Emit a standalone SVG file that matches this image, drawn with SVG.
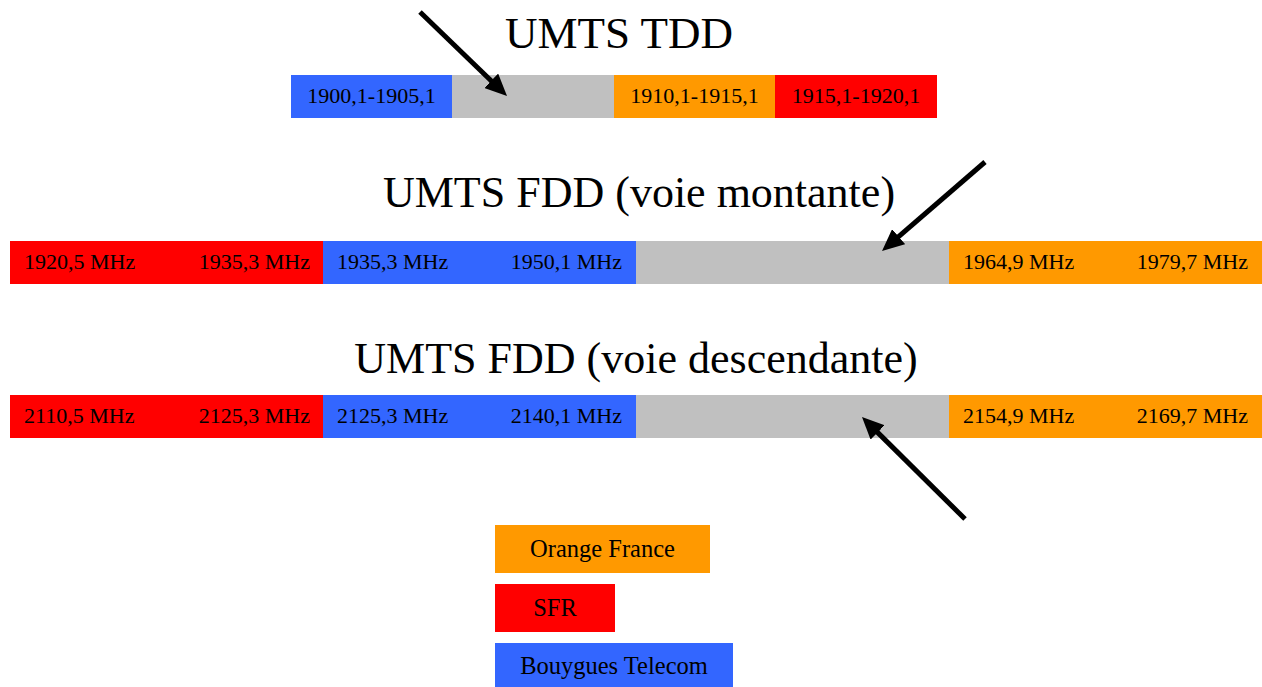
<svg xmlns="http://www.w3.org/2000/svg" width="1262" height="687" viewBox="0 0 1262 687">
<style>
text{font-family:"Liberation Serif","Times New Roman",serif;fill:#000}
.t{font-size:44px;text-anchor:middle}
.l{font-size:22px}
.c{text-anchor:middle}
.e{text-anchor:end}
.g{font-size:24.5px;text-anchor:middle}
.b{fill:#3366FF}.o{fill:#FF9900}.r{fill:#FF0000}.y{fill:#C0C0C0}
.a{stroke:#000;stroke-width:5;fill:none;marker-end:url(#ah)}
</style>
<defs>
<marker id="ah" viewBox="0 0 22 20" markerUnits="userSpaceOnUse" markerWidth="22" markerHeight="20" refX="10" refY="10" orient="auto">
<path d="M0,0 L22,10 L0,20 z" fill="#000"/>
</marker>
</defs>
<g id="tdd">
<text class="t" x="619" y="48" style="font-size:45px">UMTS TDD</text>
<rect class="b" x="291" y="75" width="161" height="43"/>
<rect class="y" x="452" y="75" width="162" height="43"/>
<rect class="o" x="614" y="75" width="161" height="43"/>
<rect class="r" x="775" y="75" width="162" height="43"/>
<text class="l c" x="371.5" y="103">1900,1-1905,1</text>
<text class="l c" x="694.5" y="103">1910,1-1915,1</text>
<text class="l c" x="856" y="103">1915,1-1920,1</text>
</g>
<g id="fdd-up">
<text class="t" x="639" y="207">UMTS FDD (voie montante)</text>
<rect class="r" x="10" y="241" width="313" height="43"/>
<rect class="b" x="323" y="241" width="313" height="43"/>
<rect class="y" x="636" y="241" width="313" height="43"/>
<rect class="o" x="949" y="241" width="313" height="43"/>
<text class="l" x="24" y="269">1920,5 MHz</text>
<text class="l e" x="310" y="269">1935,3 MHz</text>
<text class="l" x="337" y="269">1935,3 MHz</text>
<text class="l e" x="622" y="269">1950,1 MHz</text>
<text class="l" x="963" y="269">1964,9 MHz</text>
<text class="l e" x="1248" y="269">1979,7 MHz</text>
</g>
<g id="fdd-down">
<text class="t" x="636" y="373">UMTS FDD (voie descendante)</text>
<rect class="r" x="10" y="395" width="313" height="43"/>
<rect class="b" x="323" y="395" width="313" height="43"/>
<rect class="y" x="636" y="395" width="313" height="43"/>
<rect class="o" x="949" y="395" width="313" height="43"/>
<text class="l" x="24" y="423">2110,5 MHz</text>
<text class="l e" x="310" y="423">2125,3 MHz</text>
<text class="l" x="337" y="423">2125,3 MHz</text>
<text class="l e" x="622" y="423">2140,1 MHz</text>
<text class="l" x="963" y="423">2154,9 MHz</text>
<text class="l e" x="1248" y="423">2169,7 MHz</text>
</g>
<g id="legend-orange">
<rect class="o" x="495" y="525" width="215" height="48"/>
<text class="g" x="602.5" y="557">Orange France</text>
</g>
<g id="legend-sfr">
<rect class="r" x="495" y="584" width="120" height="48"/>
<text class="g" x="555" y="616">SFR</text>
</g>
<g id="legend-bouygues">
<rect class="b" x="495" y="643" width="238" height="44"/>
<text class="g" x="614" y="674">Bouygues Telecom</text>
</g>
<g id="connectors">
<line class="a" x1="420" y1="12" x2="498.4" y2="87.7"/>
<line class="a" x1="985" y1="162" x2="891.1" y2="243.2"/>
<line class="a" x1="965" y1="519" x2="870.5" y2="425.4"/>
</g>
</svg>
